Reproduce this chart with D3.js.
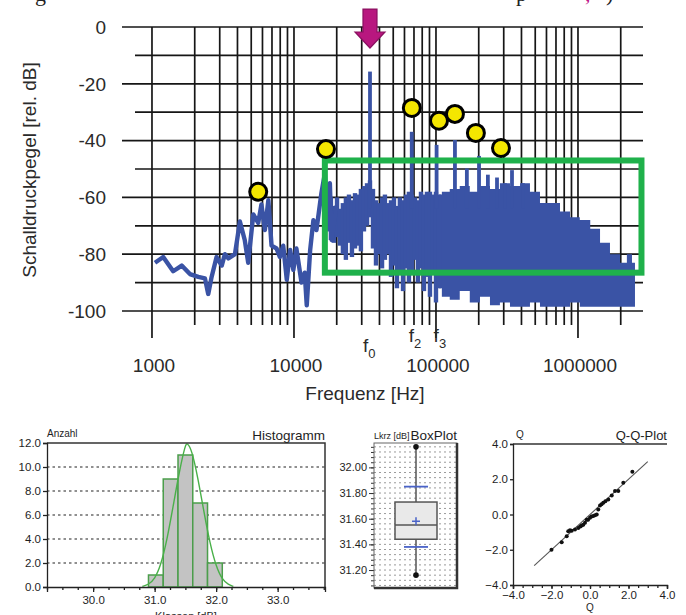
<!DOCTYPE html>
<html>
<head>
<meta charset="utf-8">
<script src="https://cdn.jsdelivr.net/npm/d3@7"></script>
<style>
  body { margin: 0; background: #fff; }
  svg { display: block; font-family: "Liberation Sans", Arial, sans-serif; }
</style>
</head>
<body>
<script>
// ---------- spectrum data ----------
// low frequency part, drawn as a thick line
const lineFreq = [1050, 1200, 1410, 1620, 1850, 2120, 2360, 2490, 2630, 2850, 3100, 3260, 3450, 3840, 4160, 4500, 4760, 5170, 5600, 5900, 6240, 6600, 6950, 7540, 7950, 8400, 8900, 9400, 9900, 10400, 11300, 11900, 12300, 13000, 13700, 14400, 15600, 16500, 17000, 17900, 18400, 19900];
const lineDb = [-83, -81, -86, -84, -87, -88, -88.5, -94, -88, -81, -84, -80, -81.5, -80, -68.5, -75, -83, -66, -69, -62.5, -71.5, -61, -77, -78, -81, -77, -89, -78.5, -85.5, -78, -90, -86.5, -98, -78.5, -68, -71.5, -58.5, -51.5, -63, -55, -75, -63];

// noisy band 17 kHz - 105 kHz, top and bottom of each column
const bandFreq = [17400, 18200, 19100, 20100, 21100, 22100, 23200, 24400, 25600, 26900, 28200, 29600, 31100, 32700, 34300, 36000, 37800, 39700, 41700, 43700, 45900, 48200, 50600, 53100, 55700, 58600, 61500, 64500, 67700, 71100, 74600, 78400, 82300, 86400, 90700, 95200, 100000, 105000];
const bandHigh = [-56, -60, -63, -60, -64, -62, -60, -59, -61, -58.5, -59, -57, -56, -55, -54, -57, -61, -62, -60, -59, -62, -61, -60, -63, -60, -61, -59, -58, -59, -60, -61, -58, -59, -58, -58, -59, -58, -59];
const bandLow = [-72, -75, -76, -74, -77, -80, -82, -76, -81, -78, -77, -79, -72, -70, -67, -78, -84, -80, -85, -82, -80, -88, -84, -92, -86, -93, -85, -90, -87, -82, -90, -85, -93, -88, -95, -86, -97, -92];

// solid part above 105 kHz
const fillFreq = [105000, 110000, 125000, 147000, 173000, 204000, 240000, 282000, 332000, 391000, 459000, 540000, 635000, 747000, 879000, 1030000, 1220000, 1430000, 1680000, 1980000, 2210000, 2400000, 2520000];
const fillHigh = [-59, -58, -57, -56, -58, -56, -57, -55, -56, -55, -58, -62, -62, -65, -67, -68, -71, -76, -80, -83, -80, -83, -85];
const fillLow = [-92, -95, -96, -93, -97, -95, -98, -97, -98.5, -98.5, -97, -98.5, -98.5, -98.5, -97, -98.5, -98.5, -98.5, -98.5, -98.5, -98.5, -98.5, -98.5];

// single peaks (f0 first)
const peakFreq = [34300, 67500, 101000, 136000, 165000, 201000, 232000, 269000, 306000, 343000, 410000];
const peakDb = [-15.7, -36.9, -41.5, -39.8, -49.8, -45.4, -52, -53, -55, -50.4, -55];

// yellow markers
const markFreq = [5600, 16800, 67600, 105000, 136000, 191000, 287000];
const markDb = [-58, -43, -28.5, -33, -30.6, -37.3, -42.6];

// green frame and peak labels
const boxFreq = [16500, 2800000];
const boxDb = [-47, -86.5];
const fLabels = ["0", "2", "3"];
const fLabelFreq = [34300, 67500, 101000];

const freqTicks = [1000, 10000, 100000, 1000000];
const dbTicks = [0, -20, -40, -60, -80, -100];

// ---------- histogram ----------
const histEdges = [30.90, 31.14, 31.38, 31.62, 31.86, 32.10];
const histCounts = [1, 9, 11, 7, 2];
const fitX = [30.80, 30.90, 31.00, 31.10, 31.20, 31.30, 31.40, 31.50, 31.53, 31.60, 31.70, 31.80, 31.90, 32.00, 32.10, 32.20, 32.28];
const fitY = [0.05, 0.2, 0.65, 1.8, 3.9, 6.7, 9.6, 11.9, 12, 11.5, 9.2, 6.3, 3.6, 1.7, 0.6, 0.2, 0.05];
const histXTicks = [30, 31, 32, 33];
const histYTicks = [0, 2, 4, 6, 8, 10, 12];

// ---------- box plot ----------
const boxStats = [31.16, 31.44, 31.55, 31.73, 32.16]; // min, q1, median, q3, max
const boxMean = 31.58;
const boxSigma = [31.38, 31.85];
const boxTicks = [31.2, 31.4, 31.6, 31.8, 32.0];

// ---------- Q-Q plot ----------
const qqX = [-2.0, -1.47, -1.21, -1.13, -1.04, -0.95, -0.78, -0.61, -0.5, -0.43, -0.35, -0.26, -0.17, -0.1, 0.0, 0.08, 0.17, 0.26, 0.35, 0.43, 0.52, 0.6, 0.69, 0.8, 0.95, 1.13, 1.3, 1.47, 1.73, 2.2];
const qqY = [-2.0, -1.57, -1.23, -0.95, -0.89, -0.92, -0.85, -0.76, -0.68, -0.63, -0.58, -0.47, -0.3, -0.3, -0.19, -0.12, -0.09, -0.04, 0.0, 0.28, 0.51, 0.58, 0.66, 0.75, 0.85, 1.08, 1.33, 1.33, 1.80, 2.43];
const qqLine = [-2.9, 3.0];
const qqTicks = [-4, -2, 0, 2, 4];

const svg = d3.select("body").append("svg").attr("width", 686).attr("height", 615);

// caption fragment cut off at the top of the page
const cap = svg.append("g").attr("font-family", "Liberation Serif, serif").attr("font-size", 22).attr("fill", "#222");
cap.append("text").attr("x", 35).attr("y", 1).text("g");
cap.append("text").attr("x", 516).attr("y", 1).text("p");
cap.append("text").attr("x", 585).attr("y", 1).attr("fill", "#c0168a").text(",");
cap.append("text").attr("x", 606).attr("y", 1).text(")");

// ================= spectrum =================
const x = d3.scaleLog().domain([615, 2870000]).range([122, 643]);
const y = d3.scaleLinear().domain([0, -100]).range([27, 311]);

const grid = svg.append("g").attr("stroke", "#161616").attr("stroke-width", 1.7);

// vertical grid: 1..9 per decade
let gridFreq = [];
freqTicks.forEach(d => { for (let m = 1; m < 10; m++) if (d * m < x.domain()[1]) gridFreq.push(d * m); });
grid.selectAll("line.v").data(gridFreq).join("line")
  .attr("x1", d => x(d)).attr("x2", d => x(d))
  .attr("y1", y(0)).attr("y2", d => freqTicks.includes(d) ? 338 : 325);

// horizontal grid every 10 dB, the 20 dB lines are longer
grid.selectAll("line.h").data(d3.range(0, -101, -10)).join("line")
  .attr("x1", d => d % 20 === 0 ? 122 : 135).attr("x2", 643)
  .attr("y1", d => y(d)).attr("y2", d => y(d));

const blue = "#3a53a5";
const spec = svg.append("g");

// solid high frequency part
spec.append("path")
  .datum(fillFreq.map((f, i) => [f, fillHigh[i], fillLow[i]]))
  .attr("fill", blue)
  .attr("d", d3.area().curve(d3.curveStepAfter)
    .x(d => x(d[0])).y0(d => y(d[2])).y1(d => y(d[1])));

// columns of the noisy band
spec.selectAll("line.band").data(bandFreq).join("line")
  .attr("x1", d => x(d)).attr("x2", d => x(d))
  .attr("y1", (d, i) => y(bandHigh[i])).attr("y2", (d, i) => y(bandLow[i]))
  .attr("stroke", blue).attr("stroke-width", 4.4);

// peaks
spec.selectAll("line.peak").data(peakFreq).join("line")
  .attr("x1", d => x(d)).attr("x2", d => x(d))
  .attr("y1", (d, i) => y(peakDb[i])).attr("y2", y(-64))
  .attr("stroke", blue).attr("stroke-width", 3.8);

// low frequency line
spec.append("path")
  .datum(lineFreq.map((f, i) => [f, lineDb[i]]))
  .attr("fill", "none").attr("stroke", blue).attr("stroke-width", 4.4)
  .attr("stroke-linejoin", "round")
  .attr("d", d3.line().x(d => x(d[0])).y(d => y(d[1])));

// green frame
svg.append("rect")
  .attr("x", x(boxFreq[0])).attr("y", y(boxDb[0]))
  .attr("width", x(boxFreq[1]) - x(boxFreq[0]))
  .attr("height", y(boxDb[1]) - y(boxDb[0]))
  .attr("fill", "none").attr("stroke", "#1fb14b").attr("stroke-width", 6);

// yellow markers
svg.selectAll("circle.mark").data(markFreq).join("circle")
  .attr("cx", d => x(d)).attr("cy", (d, i) => y(markDb[i])).attr("r", 8.5)
  .attr("fill", "#f4e600").attr("stroke", "#000").attr("stroke-width", 3);

// magenta arrow above f0
const ax = x(peakFreq[0]), aTop = y(6.3), aTip = y(-7.4);
svg.append("path")
  .attr("d", `M${ax - 7},${aTop} L${ax + 7},${aTop} L${ax + 7},${aTip - 16} L${ax + 15},${aTip - 16} L${ax},${aTip} L${ax - 15},${aTip - 16} L${ax - 7},${aTip - 16} Z`)
  .attr("fill", "#b8177f").attr("stroke", "#8a1060").attr("stroke-width", 1.2);

// axis labels
const txt = "#2a2a2a";
svg.selectAll("text.ylab").data(dbTicks).join("text")
  .attr("x", 106).attr("y", d => y(d)).attr("dy", "0.36em")
  .attr("text-anchor", "end").attr("font-size", 19).attr("fill", txt)
  .text(d => d);

svg.selectAll("text.xlab").data(freqTicks).join("text")
  .attr("x", d => x(d) + 2).attr("y", 372)
  .attr("text-anchor", "middle").attr("font-size", 19).attr("fill", txt)
  .text(d => d);

svg.append("text").attr("x", 365).attr("y", 400).attr("text-anchor", "middle")
  .attr("font-size", 19).attr("fill", txt).text("Frequenz [Hz]");

svg.append("text").attr("transform", "translate(36,170) rotate(-90)")
  .attr("text-anchor", "middle").attr("font-size", 19).attr("fill", txt)
  .text("Schalldruckpegel [rel. dB]");

const fl = svg.selectAll("text.f").data(fLabelFreq).join("text")
  .attr("x", (d, i) => x(d) - (i === 0 ? 7 : 3))
  .attr("y", (d, i) => i === 0 ? 352 : 342)
  .attr("font-size", 19).attr("fill", txt);
fl.append("tspan").text("f");
fl.append("tspan").attr("dy", 6).attr("font-size", 13).text((d, i) => fLabels[i]);

// ================= histogram =================
const small = "#1e1e1e";
const hx = d3.scaleLinear().domain([29.25, 33.77]).range([47, 325]);
const hy = d3.scaleLinear().domain([0, 12]).range([587, 443]);
const hist = svg.append("g");

hist.selectAll("line.hg").data(histYTicks.slice(1, -1)).join("line")
  .attr("x1", 47).attr("x2", 325).attr("y1", d => hy(d)).attr("y2", d => hy(d))
  .attr("stroke", "#222").attr("stroke-width", 1.2).attr("stroke-dasharray", "2.5,3");

hist.selectAll("rect.bar").data(histCounts).join("rect")
  .attr("x", (d, i) => hx(histEdges[i])).attr("y", d => hy(d))
  .attr("width", (d, i) => hx(histEdges[i + 1]) - hx(histEdges[i]))
  .attr("height", d => hy(0) - hy(d))
  .attr("fill", "#c3c3c3").attr("stroke", "#4b9e4b").attr("stroke-width", 1.5);

hist.append("path")
  .datum(fitX.map((v, i) => [v, fitY[i]]))
  .attr("fill", "none").attr("stroke", "#49b049").attr("stroke-width", 1.4)
  .attr("d", d3.line().curve(d3.curveBasis).x(d => hx(d[0])).y(d => hy(d[1])));

// frame top / right
hist.append("path").attr("d", `M47,${hy(12)} H325 V${hy(0)}`)
  .attr("fill", "none").attr("stroke", "#333").attr("stroke-width", 1.5);

const hyAxis = hist.append("g").attr("transform", "translate(47,0)")
  .call(d3.axisLeft(hy).tickValues(histYTicks).tickFormat(d3.format(".1f")).tickSize(4).tickPadding(2));
const hxMinor = hist.append("g").attr("transform", `translate(0,${hy(0)})`)
  .call(d3.axisBottom(hx).tickValues(d3.range(29.25, 33.76, 0.25)).tickFormat("").tickSize(3));
const hxAxis = hist.append("g").attr("transform", `translate(0,${hy(0)})`)
  .call(d3.axisBottom(hx).tickValues(histXTicks).tickFormat(d3.format(".1f")).tickSize(5).tickPadding(4));
[hyAxis, hxMinor, hxAxis].forEach(g => {
  g.attr("font-family", "Liberation Sans, Arial, sans-serif").attr("font-size", 11.5);
  g.selectAll("path,line").attr("stroke", "#222").attr("stroke-width", 1.3);
  g.selectAll("text").attr("fill", small);
});
hxMinor.select(".domain").remove();

hist.append("text").attr("x", 47).attr("y", 437).attr("font-size", 10).attr("fill", small).text("Anzahl");
hist.append("text").attr("x", 325).attr("y", 440).attr("text-anchor", "end").attr("font-size", 13.5).attr("fill", small).text("Histogramm");
hist.append("text").attr("x", 186).attr("y", 620).attr("text-anchor", "middle").attr("font-size", 11).attr("fill", small).text("Klassen [dB]");

// ================= box plot =================
const by = d3.scaleLinear().domain([31.06, 32.19]).range([588, 443]);
const bp = svg.append("g");
const bxL = 374, bxR = 457, bxC = 416;

bp.selectAll("line.bg").data(d3.range(31.08, 32.19, 0.04)).join("line")
  .attr("x1", bxL).attr("x2", bxR).attr("y1", d => by(d)).attr("y2", d => by(d))
  .attr("stroke", "#9a9a9a").attr("stroke-width", 1).attr("stroke-dasharray", "2,3");

const byMinor = bp.append("g").attr("transform", `translate(${bxL},0)`)
  .call(d3.axisLeft(by).tickValues(d3.range(31.08, 32.19, 0.04)).tickFormat("").tickSize(3));
const byAxis = bp.append("g").attr("transform", `translate(${bxL},0)`)
  .call(d3.axisLeft(by).tickValues(boxTicks).tickFormat(d3.format(".2f")).tickSize(5).tickPadding(2));
[byMinor, byAxis].forEach(g => {
  g.attr("font-family", "Liberation Sans, Arial, sans-serif").attr("font-size", 11);
  g.selectAll("path,line").attr("stroke", "#333");
  g.select(".domain").remove();
  g.selectAll("text").attr("fill", small);
});

// frame with shadow on the right and bottom
bp.append("rect").attr("x", bxL).attr("y", by(32.19)).attr("width", bxR - bxL).attr("height", by(31.06) - by(32.19))
  .attr("fill", "none").attr("stroke", "#666").attr("stroke-width", 1);
bp.append("path").attr("d", `M${bxR},${by(32.19)} V${by(31.06)} H${bxL}`)
  .attr("fill", "none").attr("stroke", "#333").attr("stroke-width", 2.5);

bp.append("line").attr("x1", bxC).attr("x2", bxC).attr("y1", by(boxStats[0])).attr("y2", by(boxStats[4]))
  .attr("stroke", "#555").attr("stroke-width", 1.5);
bp.append("rect").attr("x", bxC - 21).attr("width", 42)
  .attr("y", by(boxStats[3])).attr("height", by(boxStats[1]) - by(boxStats[3]))
  .attr("fill", "#e9e9e9").attr("stroke", "#555").attr("stroke-width", 1.5);
bp.append("line").attr("x1", bxC - 21).attr("x2", bxC + 21).attr("y1", by(boxStats[2])).attr("y2", by(boxStats[2]))
  .attr("stroke", "#555").attr("stroke-width", 1.5);
bp.selectAll("circle.w").data([boxStats[0], boxStats[4]]).join("circle")
  .attr("cx", bxC).attr("cy", d => by(d)).attr("r", 2.8).attr("fill", "#111");
bp.selectAll("line.sig").data(boxSigma).join("line")
  .attr("x1", bxC - 12).attr("x2", bxC + 12).attr("y1", d => by(d)).attr("y2", d => by(d))
  .attr("stroke", "#4a63c8").attr("stroke-width", 1.8);
bp.append("path").attr("d", `M${bxC - 4},${by(boxMean)} H${bxC + 4} M${bxC},${by(boxMean) - 4} V${by(boxMean) + 4}`)
  .attr("stroke", "#4a63c8").attr("stroke-width", 1.5);

bp.append("text").attr("x", bxL).attr("y", 439).attr("font-size", 9).attr("fill", small).text("Lkrz [dB]");
bp.append("text").attr("x", bxR).attr("y", 440).attr("text-anchor", "end").attr("font-size", 13.5).attr("fill", small).text("BoxPlot");

// ================= Q-Q plot =================
const qx = d3.scaleLinear().domain([-4, 4]).range([513, 667]);
const qy = d3.scaleLinear().domain([-4, 4]).range([585, 444]);
const qq = svg.append("g");

qq.append("line").attr("x1", qx(-4)).attr("x2", qx(4)).attr("y1", qy(4)).attr("y2", qy(4))
  .attr("stroke", "#333").attr("stroke-width", 1.5);

const qyAxis = qq.append("g").attr("transform", `translate(${qx(-4)},0)`)
  .call(d3.axisLeft(qy).tickValues(qqTicks).tickFormat(d3.format(".1f")).tickSize(3).tickPadding(2));
const qxMinor = qq.append("g").attr("transform", `translate(0,${qy(-4)})`)
  .call(d3.axisBottom(qx).tickValues(d3.range(-4, 4.01, 0.5)).tickFormat("").tickSize(3));
const qxAxis = qq.append("g").attr("transform", `translate(0,${qy(-4)})`)
  .call(d3.axisBottom(qx).tickValues(qqTicks).tickFormat(d3.format(".1f")).tickSize(4).tickPadding(2));
[qyAxis, qxMinor, qxAxis].forEach(g => {
  g.attr("font-family", "Liberation Sans, Arial, sans-serif").attr("font-size", 11.5);
  g.selectAll("path,line").attr("stroke", "#222").attr("stroke-width", 1.3);
  g.selectAll("text").attr("fill", small);
});
qxMinor.select(".domain").remove();

qq.append("line")
  .attr("x1", qx(qqLine[0])).attr("y1", qy(qqLine[0]))
  .attr("x2", qx(qqLine[1])).attr("y2", qy(qqLine[1]))
  .attr("stroke", "#555").attr("stroke-width", 1.1);

qq.selectAll("circle.q").data(qqX).join("circle")
  .attr("cx", d => qx(d)).attr("cy", (d, i) => qy(qqY[i])).attr("r", 2)
  .attr("fill", "#111");

qq.append("text").attr("x", 516).attr("y", 438).attr("font-size", 10).attr("fill", small).text("Q");
qq.append("text").attr("x", 667).attr("y", 440).attr("text-anchor", "end").attr("font-size", 13).attr("fill", small).text("Q-Q-Plot");
qq.append("text").attr("x", qx(0)).attr("y", 611).attr("text-anchor", "middle").attr("font-size", 10).attr("fill", small).text("Q");
</script>
</body>
</html>
